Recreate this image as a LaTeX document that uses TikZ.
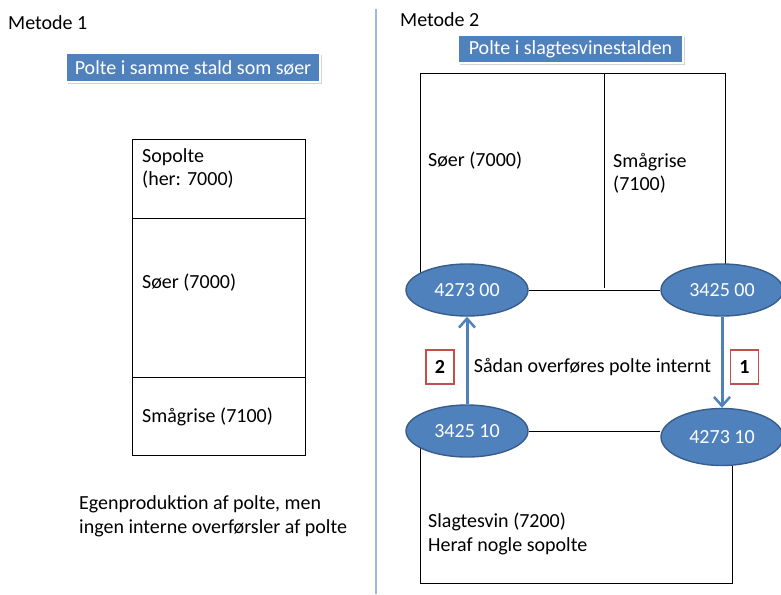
\documentclass[tikz,border=0pt]{standalone}
\usepackage{fontspec}
\setmainfont{Carlito}
\usetikzlibrary{arrows.meta,shapes.geometric,shadows,backgrounds}
\definecolor{obl}{HTML}{4F81BD}
\definecolor{obd}{HTML}{385D8A}
\definecolor{divc}{HTML}{9BBBDE}
\definecolor{ored}{HTML}{C0504D}
\tikzset{
  txt/.style={font=\fontsize{20}{23.5}\selectfont, inner sep=0pt, align=left, anchor=west},
  oval/.style={ellipse, fill=obl, draw=obd, line width=1.4pt, minimum width=122pt, minimum height=52pt, text=white, inner sep=0pt, font=\fontsize{20}{23.5}\selectfont},
  titlebox/.style={rectangle, fill=obl, draw=white, line width=1.5pt, text=white, inner sep=0pt, font=\fontsize{20}{23.5}\selectfont, drop shadow={opacity=0.35, shadow xshift=1.5pt, shadow yshift=-2pt}},
  numbox/.style={rectangle, draw=ored, fill=white, line width=1.3pt, minimum width=28pt, minimum height=34pt, inner sep=0pt, font=\bfseries\fontsize{20}{23.5}\selectfont},
  wall/.style={draw=black, line width=1pt},
  flow/.style={draw=obl, line width=3pt, -{Straight Barb[length=9pt,width=16pt,line width=2.5pt]}}
}
\begin{document}
\begin{tikzpicture}[x=1pt,y=-1pt]
\useasboundingbox (0,0) rectangle (781,594);
% divider
\draw[divc, line width=2pt] (375.5,9) -- (375.5,594);
% headings
\node[txt] (m1) at (8,23) {Metode 1};
\node[txt] (m2) at (400,20) {Metode 2};
\node[titlebox, minimum width=254pt, minimum height=29pt] (t1) at (193,67.5) {Polte i samme stald som søer};
\node[titlebox, minimum width=225pt, minimum height=28pt] (t2) at (570.5,49) {Polte i slagtesvinestalden};
% Method 1 stable
\draw[wall] (132.5,139) rectangle (305.5,455);
\draw[wall] (132.5,218) -- (305.5,218);
\draw[wall] (132.5,377) -- (305.5,377);
\node[txt] (sp) at (142,168.5) {Sopolte\\(her: 7000)};
\node[txt] (s1) at (142,283) {Søer (7000)};
\node[txt] (sg1) at (142,417) {Smågrise (7100)};
\node[txt] (eg) at (79,516.5) {Egenproduktion af polte, men\\ingen interne overførsler af polte};
% Method 2 ovals
\node[oval] (a) at (467,290) {4273 00};
\node[oval] (b) at (722,290) {3425 00};
\node[oval] (c) at (467,431) {3425 10};
\node[oval, minimum height=57pt] (d) at (722,437) {4273 10};
\begin{scope}[on background layer]
\draw[wall] (a.center) -- (420,290) -- (420,73) -- (725,73) -- (725,290);
\draw[wall] (604,73) -- (604,288);
\draw[wall] (a) -- (b);
\draw[wall] (c.east) -- (c.east -| d.west);
\draw[wall] (c.center) -- (420,431) -- (420,583) -- (732,583) -- (732,437);
\end{scope}
\node[txt] (s2) at (428,161) {Søer (7000)};
\node[txt] (sg2) at (613,173.5) {Smågrise\\(7100)};
\node[txt] (sl) at (428,534) {Slagtesvin (7200)\\Heraf nogle sopolte};
% transfers
\draw[flow] (c) -- (a);
\draw[flow] (b) -- (d);
\node[numbox] (n2) at (440,367) {2};
\node[numbox] (n1) at (744.5,367) {1};
\node[txt, anchor=center] (lab) at (592.5,367) {Sådan overføres polte internt};
\end{tikzpicture}
\end{document}
